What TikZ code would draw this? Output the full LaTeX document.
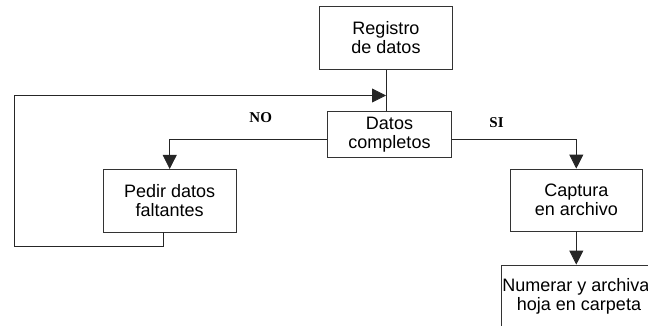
\documentclass[tikz,border=0pt]{standalone}
\usepackage{fontspec}
\setmainfont{Liberation Sans}
\newfontfamily\lblfont{Liberation Serif}
\usetikzlibrary{arrows.meta}
\begin{document}
\begin{tikzpicture}[x=1pt,y=-1pt,
  box/.style={draw=black!80, line width=0.8pt, align=center, inner sep=0pt,
    font=\fontsize{18}{19}\selectfont},
  conn/.style={draw=black!85, line width=0.8pt},
  arr/.style={conn, -{Triangle[length=14pt,width=14pt]}},
  lbl/.style={font=\lblfont\bfseries\fontsize{15}{17}\selectfont, inner sep=0pt}]
\useasboundingbox (0,0) rectangle (648,325);
\clip (0,0) rectangle (648,325);
\node[box, minimum width=133pt, minimum height=62.6pt] (reg) at (386,38) {Registro\\de datos};
\node[box, minimum width=124.4pt, minimum height=46pt] (dc) at (389.5,134.7) {Datos\\completos};
\node[box, minimum width=132.7pt, minimum height=62.7pt] (ped) at (169.7,200.7) {Pedir datos\\faltantes};
\node[box, minimum width=132.7pt, minimum height=62pt] (cap) at (576.3,200) {Captura\\en archivo};
\node[box, minimum width=156pt, minimum height=62pt] (num) at (579,296) {Numerar y archivar\\hoja en carpeta};
\node[lbl] (no) at (260.7,118) {NO};
\node[lbl] (si) at (496.5,123) {SI};
\coordinate (join) at (386,95.5);
\coordinate (bl) at (14,246);
\draw[conn] (reg.south) -- (reg.south |- dc.north);
\draw[arr] ([xshift=-6.4pt]ped.south) |- (bl) |- (join);
\draw[arr] ([yshift=-4.5pt]dc.west) -| (ped.north);
\draw[arr] ([yshift=-4.5pt]dc.east) -| (cap.north);
\draw[arr] (cap.south) -- (cap.south |- num.north);
\end{tikzpicture}
\end{document}
